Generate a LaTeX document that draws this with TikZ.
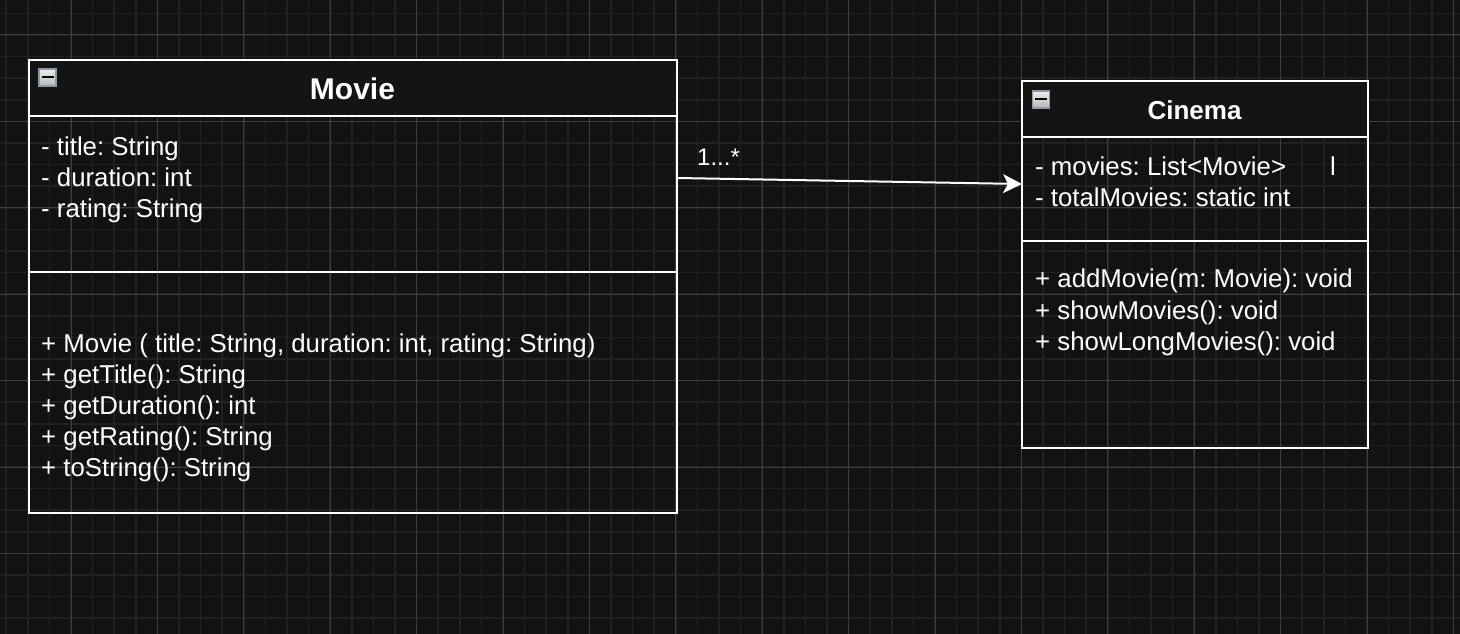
\documentclass[tikz,border=0pt]{standalone}
\usepackage{fontspec}
\setmainfont{Liberation Sans}
\usetikzlibrary{arrows.meta}
\definecolor{bgc}{HTML}{121212}
\definecolor{minorc}{HTML}{222222}
\definecolor{majorc}{HTML}{3E3E3E}
\definecolor{headc}{HTML}{141414}
\definecolor{iconborder}{HTML}{8E97A6}
\frenchspacing
\begin{document}
\begin{tikzpicture}[x=1pt,y=-1pt,
  boxframe/.style={draw=white,line width=2pt,inner sep=0pt,outer sep=0pt},
  headfill/.style={fill=headc,inner sep=0pt,outer sep=0pt},
  bodytxt/.style={text=white,font=\fontsize{25.8}{30}\selectfont,anchor=base west,inner sep=0pt},
  titletxt/.style={text=white,font=\bfseries\fontsize{#1}{#1}\selectfont,anchor=base,inner sep=0pt},
  collapseicon/.style={draw=iconborder,line width=1.5pt,top color=white!93!black,bottom color=white!72!black,minimum size=17pt,inner sep=0pt},
  divider/.style={draw=white,line width=2pt},
  assoc/.style={draw=white,line width=2pt,-{Stealth[length=19pt,width=19pt,inset=5pt]}}
]
\fill[bgc] (0,0) rectangle (1460,634);
\useasboundingbox (0,0) rectangle (1460,634);
% grid
\foreach \i in {0,...,67} \draw[minorc,line width=1.5pt] ({6.2+21.6*\i},0) -- ++(0,634);
\foreach \j in {0,...,28} \draw[minorc,line width=1.5pt] (0,{13.4+21.6*\j}) -- ++(1460,0);
\foreach \i in {0,...,16} \draw[majorc,line width=1pt] ({71+86.4*\i},0) -- ++(0,634);
\foreach \j in {0,...,6} \draw[majorc,line width=1pt] (0,{35+86.4*\j}) -- ++(1460,0);

% Movie class
\node[headfill,minimum width=648pt,minimum height=56pt] (moviehead) at (353,88) {};
\node[boxframe,minimum width=648pt,minimum height=453pt] (movie) at (353,286.5) {};
\draw[divider] (moviehead.south west) -- (moviehead.south east);
\draw[divider] ([yshift=-212pt]movie.north west) -- ([yshift=-212pt]movie.north east);
\node[collapseicon] (movieicon) at (47.5,77.5) {};
\draw[black,line width=2pt] ([xshift=-6pt]movieicon.center) -- ([xshift=6pt]movieicon.center);
\node[titletxt=30] (movietitle) at (352.5,99.8) {Movie};
\node[bodytxt] (ma1) at (41,155.5) {- title: String};
\node[bodytxt] (ma2) at (41,186.5) {- duration: int};
\node[bodytxt] (ma3) at (41,217.5) {- rating: String};
\node[bodytxt] (mm1) at (41,352.5) {+ Movie ( title: String, duration: int, rating: String)};
\node[bodytxt] (mm2) at (41,383.5) {+ getTitle(): String};
\node[bodytxt] (mm3) at (41,414.5) {+ getDuration(): int};
\node[bodytxt] (mm4) at (41,445.5) {+ getRating(): String};
\node[bodytxt] (mm5) at (41,476.5) {+ toString(): String};

% Cinema class
\node[headfill,minimum width=346pt,minimum height=56pt] (cinemahead) at (1195,109) {};
\node[boxframe,minimum width=346pt,minimum height=367pt] (cinema) at (1195,264.5) {};
\draw[divider] (cinemahead.south west) -- (cinemahead.south east);
\draw[divider] ([yshift=-160pt]cinema.north west) -- ([yshift=-160pt]cinema.north east);
\node[collapseicon] (cinemaicon) at (1041,99.5) {};
\draw[black,line width=2pt] ([xshift=-6pt]cinemaicon.center) -- ([xshift=6pt]cinemaicon.center);
\node[titletxt=26] (cinematitle) at (1194.5,119.3) {Cinema};
\node[bodytxt] (ca1) at (1035,175.5) {- movies: List<Movie>};
\node[bodytxt] (cacursor) at (1330,175.5) {l};
\node[bodytxt] (ca2) at (1035,206.5) {- totalMovies: static int};
\node[bodytxt] (cm1) at (1035,287.5) {+ addMovie(m: Movie): void};
\node[bodytxt] (cm2) at (1035,319) {+ showMovies(): void};
\node[bodytxt] (cm3) at (1035,350.5) {+ showLongMovies(): void};

% association
\draw[assoc] ([yshift=-118pt]movie.north east) -- ([yshift=-103pt]cinema.north west);
\node[text=white,font=\fontsize{24}{28}\selectfont,anchor=base west,inner sep=0pt] (mult) at (697,165.7) {1...*};
\end{tikzpicture}
\end{document}
